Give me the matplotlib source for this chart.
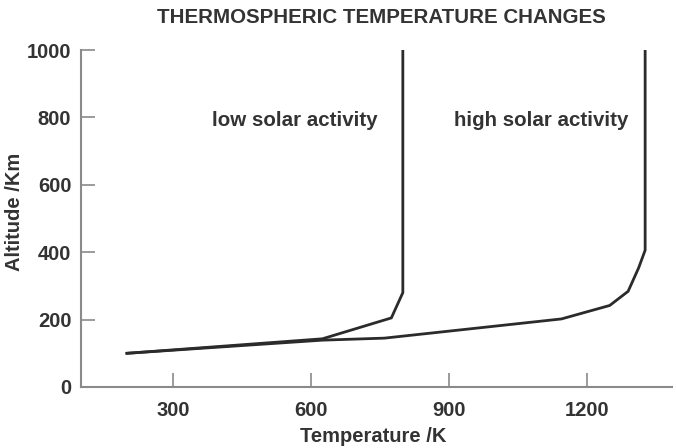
import matplotlib
matplotlib.use("Agg")
import matplotlib.pyplot as plt

# Data
low_temp = [200, 625, 775, 800, 800]
low_alt = [100, 143, 205, 280, 1000]
high_temp = [200, 625, 760, 1145, 1250, 1290, 1313, 1327, 1327]
high_alt = [100, 139, 145, 202, 242, 284, 354, 406, 1000]
x_ticks = [300, 600, 900, 1200]
y_ticks = [0, 200, 400, 600, 800, 1000]

plt.rcParams['font.family'] = ['Liberation Sans', 'DejaVu Sans']
txt = '#333333'
grey = '#8a8a8a'

fig = plt.figure(figsize=(6.76, 4.48), dpi=100)
ax = fig.add_axes([0.1198, 0.1362, 0.874, 0.752])

ax.plot(low_temp, low_alt, color='#2b2b2b', lw=2.0, solid_joinstyle='miter')
ax.plot(high_temp, high_alt, color='#2b2b2b', lw=2.0, solid_joinstyle='miter')

ax.set_xlim(100, 1385)
ax.set_ylim(0, 1000)
ax.set_xticks(x_ticks)
ax.set_yticks(y_ticks)
for s in ['top', 'right']:
    ax.spines[s].set_visible(False)
for s in ['left', 'bottom']:
    ax.spines[s].set_color(grey)
    ax.spines[s].set_linewidth(1.5)
ax.tick_params(axis='both', direction='in', length=10, width=1.2, color=grey,
               labelsize=14.5, labelcolor=txt)
ax.tick_params(axis='x', pad=10)
ax.tick_params(axis='y', pad=7)
for lab in ax.get_xticklabels() + ax.get_yticklabels():
    lab.set_fontweight('bold')

ax.set_xlabel('Temperature /K', fontsize=14.5, fontweight='bold', color=txt, va='center')
ax.xaxis.set_label_coords(0.495, -0.148)
ax.set_ylabel('Altitude /Km', fontsize=14.5, fontweight='bold', color=txt, va='center')
ax.yaxis.set_label_coords(-0.113, 0.52)

ax.text(565, 790, 'low solar activity', fontsize=14.75, fontweight='bold', color=txt,
        ha='center', va='center')
ax.text(1100, 790, 'high solar activity', fontsize=14.75, fontweight='bold', color=txt,
        ha='center', va='center')

fig.text(0.564, 0.96, 'THERMOSPHERIC TEMPERATURE CHANGES', fontsize=14.8,
         fontweight='bold', color=txt, ha='center', va='center')

fig.savefig('out.png', dpi=100)
